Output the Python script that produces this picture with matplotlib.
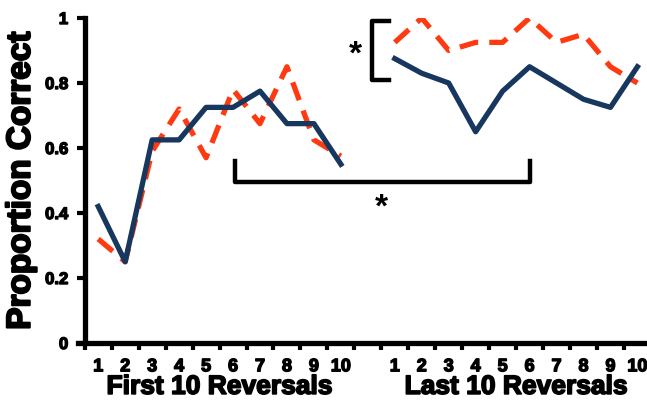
import matplotlib.pyplot as plt
import matplotlib.patheffects as pe
from matplotlib.ticker import FixedLocator, FuncFormatter

# trial numbers (1-10 first block, 1-10 last block)
trials = list(range(1, 11))
first_blue = [0.42, 0.25, 0.625, 0.625, 0.725, 0.725, 0.775, 0.675, 0.675, 0.55]
first_red = [0.32, 0.25, 0.59, 0.72, 0.57, 0.78, 0.675, 0.85, 0.625, 0.575]
last_blue = [0.875, 0.83, 0.80, 0.65, 0.775, 0.85, 0.80, 0.75, 0.725, 0.85]
last_red = [0.925, 1.0, 0.90, 0.925, 0.925, 1.0, 0.925, 0.95, 0.85, 0.80]
yticks = [0, 0.2, 0.4, 0.6, 0.8, 1]
group_labels = ["First 10 Reversals", "Last 10 Reversals"]

blue = "#17375e"
red = "#ff3a10"
plt.rcParams['font.family'] = ['Liberation Sans', 'DejaVu Sans']
plt.rcParams['font.weight'] = 'bold'
heavy = [pe.withStroke(linewidth=1.0, foreground='black')]

fig = plt.figure(figsize=(6.47, 4.0), dpi=100)
ax = fig.add_axes([0.131, 0.1425, 0.875, 0.8125])

x1 = trials
x2 = [t + 11 for t in trials]
ax.plot(x1, first_red, color=red, lw=3.8, ls=(0, (3.6, 2.1)))
ax.plot(x2, last_red, color=red, lw=3.8, ls=(0, (3.6, 2.1)))
ax.plot(x1, first_blue, color=blue, lw=3.8)
ax.plot(x2, last_blue, color=blue, lw=3.8)

ax.set_xlim(0.5, 21.5)
ax.set_ylim(0, 1)

for s in ['top', 'right']:
    ax.spines[s].set_visible(False)
for s in ['left', 'bottom']:
    ax.spines[s].set_linewidth(3.8)
ax.spines['bottom'].set_bounds(0.25, 21.5)

ax.set_yticks(yticks)
ax.yaxis.set_major_formatter(FuncFormatter(lambda v, p: f"{v:g}"))
ax.tick_params(axis='y', length=6, width=3, labelsize=12, pad=6)

centers = x1 + x2
ax.set_xticks(centers)
ax.set_xticklabels([str(t) for t in trials] * 2)
ax.xaxis.set_minor_locator(FixedLocator([b + 0.5 for b in range(0, 22)]))
ax.tick_params(axis='x', which='major', length=0, labelsize=13, pad=11)
ax.tick_params(axis='x', which='minor', length=5, width=3)
for lab in ax.get_xticklabels() + ax.get_yticklabels():
    lab.set_fontweight('bold')
    lab.set_path_effects(heavy)

ax.set_ylabel("Proportion Correct", fontsize=24, fontweight='bold', labelpad=6,
              path_effects=[pe.withStroke(linewidth=1.5, foreground='black')])

tr = ax.get_xaxis_transform()
for xc, txt in zip([5.5, 16.5], group_labels):
    ax.text(xc, -0.135, txt, transform=tr, ha='center', va='center',
            fontsize=19, fontweight='bold',
            path_effects=[pe.withStroke(linewidth=1.2, foreground='black')])

# significance brackets
ax.plot([11.8, 11.15, 11.15, 11.8], [0.99, 0.99, 0.81, 0.81], color='black', lw=3.2, clip_on=False)
ax.text(10.55, 0.885, "*", ha='center', va='center', fontsize=24, fontweight='bold')
ax.plot([6.07, 6.07, 17.0, 17.0], [0.56, 0.495, 0.495, 0.56], color='black', lw=3.2)
ax.text(11.5, 0.415, "*", ha='center', va='center', fontsize=24, fontweight='bold')

fig.savefig("out.png", dpi=100)
